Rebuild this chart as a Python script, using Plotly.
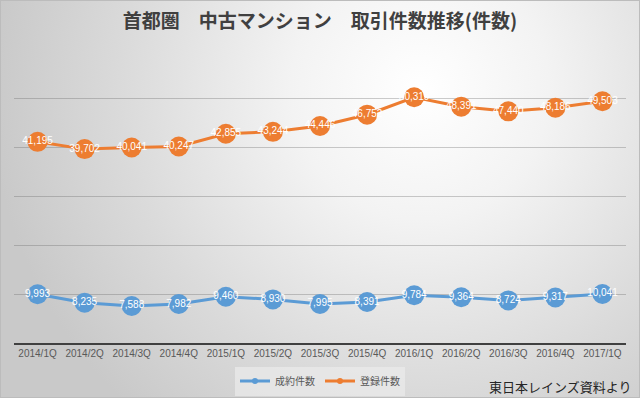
import base64
import plotly.graph_objects as go

quarters = ["2014/1Q", "2014/2Q", "2014/3Q", "2014/4Q", "2015/1Q", "2015/2Q", "2015/3Q",
            "2015/4Q", "2016/1Q", "2016/2Q", "2016/3Q", "2016/4Q", "2017/1Q"]
contracts = [9993, 8235, 7588, 7982, 9460, 8930, 7995, 8391, 9784, 9364, 8724, 9317, 10041]
listings = [41195, 39702, 40041, 40247, 42855, 43244, 44446, 46752, 50319, 48391, 47440, 48186, 49503]

BLUE = "#5B9BD5"
ORANGE = "#ED7D31"
W, H = 640, 398
ML, MR, MT, MB = 14, 14, 50, 55
PW, PH = W - ML - MR, H - MT - MB

svg = f'''<svg xmlns="http://www.w3.org/2000/svg" width="{W}" height="{H}" viewBox="0 0 {W} {H}">
<defs><radialGradient id="g" gradientUnits="userSpaceOnUse" cx="420" cy="90" r="430">
<stop offset="0" stop-color="#ffffff"/><stop offset="0.3" stop-color="#f3f3f3"/>
<stop offset="0.7" stop-color="#dadada"/><stop offset="1" stop-color="#c9c9c9"/></radialGradient></defs>
<rect x="0" y="0" width="{W}" height="{H}" fill="url(#g)"/>
<rect x="0.5" y="0.5" width="{W-1}" height="{H-1}" fill="none" stroke="#bcbcbc" stroke-width="1"/>
</svg>'''
bg_uri = "data:image/svg+xml;base64," + base64.b64encode(svg.encode()).decode()

fig = go.Figure()
fig.add_trace(go.Scatter(
    x=quarters, y=listings, mode="lines+markers+text", name="登録件数", showlegend=False,
    line=dict(color=ORANGE, width=3), marker=dict(color=ORANGE, size=20),
    text=[f"{v:,}" for v in listings], textposition="middle center",
    textfont=dict(color="white", size=10, family="Liberation Sans"), cliponaxis=False))
fig.add_trace(go.Scatter(
    x=quarters, y=contracts, mode="lines+markers+text", name="成約件数", showlegend=False,
    line=dict(color=BLUE, width=3), marker=dict(color=BLUE, size=20),
    text=[f"{v:,}" for v in contracts], textposition="middle center",
    textfont=dict(color="white", size=10, family="Liberation Sans"), cliponaxis=False))
# legend entries
fig.add_trace(go.Scatter(x=[None], y=[None], mode="lines+markers", name="成約件数",
                         line=dict(color=BLUE, width=3), marker=dict(color=BLUE, size=6)))
fig.add_trace(go.Scatter(x=[None], y=[None], mode="lines+markers", name="登録件数",
                         line=dict(color=ORANGE, width=3), marker=dict(color=ORANGE, size=6)))

fig.update_layout(
    width=W, height=H,
    margin=dict(l=ML, r=MR, t=MT, b=MB, autoexpand=False),
    paper_bgcolor="rgba(0,0,0,0)", plot_bgcolor="rgba(0,0,0,0)",
    title=dict(text="<b>首都圏　中古マンション　取引件数推移(件数)</b>", x=0.5, xanchor="center",
               y=1 - 21 / H, yanchor="middle",
               font=dict(family="Noto Sans CJK JP", size=19, color="#404040")),
    xaxis=dict(showgrid=False, showline=True, linecolor="#404040", linewidth=1.5,
               ticks="", tickfont=dict(family="Liberation Sans", size=10, color="#595959"),
               range=[-0.5, len(quarters) - 0.5], fixedrange=True),
    yaxis=dict(range=[0, 60000], dtick=10000, showticklabels=False, zeroline=False,
               gridcolor="rgba(100,100,100,0.33)", gridwidth=1, fixedrange=True),
    legend=dict(orientation="h", x=0.5, xanchor="center", yref="container", y=1 - 381 / H, yanchor="middle",
                bgcolor="rgba(235,235,235,0.7)", font=dict(family="Noto Sans CJK JP", size=10, color="#595959"),
                itemwidth=30, tracegroupgap=0),
    images=[dict(source=bg_uri, xref="paper", yref="paper", x=-ML / PW, y=1 + MT / PH,
                 sizex=W / PW, sizey=H / PH, xanchor="left", yanchor="top",
                 sizing="stretch", layer="below")],
    annotations=[dict(text="東日本レインズ資料より", xref="paper", yref="paper",
                      x=(633 - ML) / PW, y=-(386 - 343) / PH, xanchor="right", yanchor="middle",
                      showarrow=False, font=dict(family="Noto Sans CJK JP", size=13, color="#262626"))],
    showlegend=True,
)

fig.write_html("out.html", config={"displayModeBar": False},
               post_script="document.body.style.margin='0';document.body.style.overflow='hidden';")
